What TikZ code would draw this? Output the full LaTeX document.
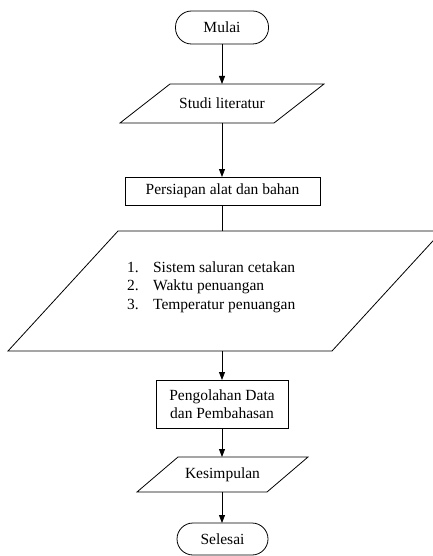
\documentclass[tikz,border=0pt]{standalone}
\usepackage{fontspec}
\setmainfont{Liberation Serif}
\usetikzlibrary{arrows.meta}
\begin{document}
\begin{tikzpicture}[x=1pt,y=-1pt,
  every node/.style={font=\fontsize{15.5}{18.5}\selectfont, outer sep=0pt, inner sep=0pt},
  term/.style={draw, line width=0.8pt, rounded corners=16pt},
  box/.style={draw, line width=0.8pt},
  para/.style={},
  outline/.style={line width=0.8pt},
  conn/.style={line width=0.8pt},
  arr/.style={conn, -{Triangle[length=8pt,width=6pt]}}
]
\useasboundingbox (0,0) rectangle (433,556);
\clip (0,0) rectangle (433,556);

\node[term, minimum width=93pt, minimum height=33pt] (mulai) at (222,27.5) {Mulai};
\node[para, minimum width=204pt, minimum height=39pt] (studi) at (222,103.5) {Studi literatur};
\node[box, minimum width=195pt, minimum height=28pt] (persiapan) at (222.5,191) {Persiapan alat dan bahan};
\node[para, minimum width=434pt, minimum height=120pt] (data) at (225,291) {};
\node[anchor=west] (list) at (127,287) {\begin{tabular}{@{}l@{\hspace{14.5pt}}l@{}}
1. & Sistem saluran cetakan\\
2. & Waktu penuangan\\
3. & Temperatur penuangan
\end{tabular}};
\node[box, minimum width=132pt, minimum height=48pt, align=center] (olah) at (222,404) {Pengolahan Data\\dan Pembahasan};
\node[para, minimum width=171pt, minimum height=35pt] (simpul) at (222.5,474.5) {Kesimpulan};
\node[term, minimum width=91pt, minimum height=32pt] (selesai) at (222.5,539) {Selesai};

% parallelogram outlines
\draw[outline] ([xshift=50pt]studi.north west) -- (studi.north east) -- ([xshift=-50pt]studi.south east) -- (studi.south west) -- cycle;
\draw[outline] ([xshift=110pt]data.north west) -- (data.north east) -- ([xshift=-110pt]data.south east) -- (data.south west) -- cycle;
\draw[outline] ([xshift=41pt]simpul.north west) -- (simpul.north east) -- ([xshift=-41pt]simpul.south east) -- (simpul.south west) -- cycle;

% connectors
\draw[arr] (mulai.south) -- (mulai.south |- studi.north);
\draw[arr] (mulai.south |- studi.south) -- (mulai.south |- persiapan.north);
\draw[conn] (mulai.south |- persiapan.south) -- (mulai.south |- data.north);
\draw[arr] (mulai.south |- data.south) -- (mulai.south |- olah.north);
\draw[arr] (mulai.south |- olah.south) -- (mulai.south |- simpul.north);
\draw[arr] (mulai.south |- simpul.south) -- (mulai.south |- selesai.north);
\end{tikzpicture}
\end{document}
